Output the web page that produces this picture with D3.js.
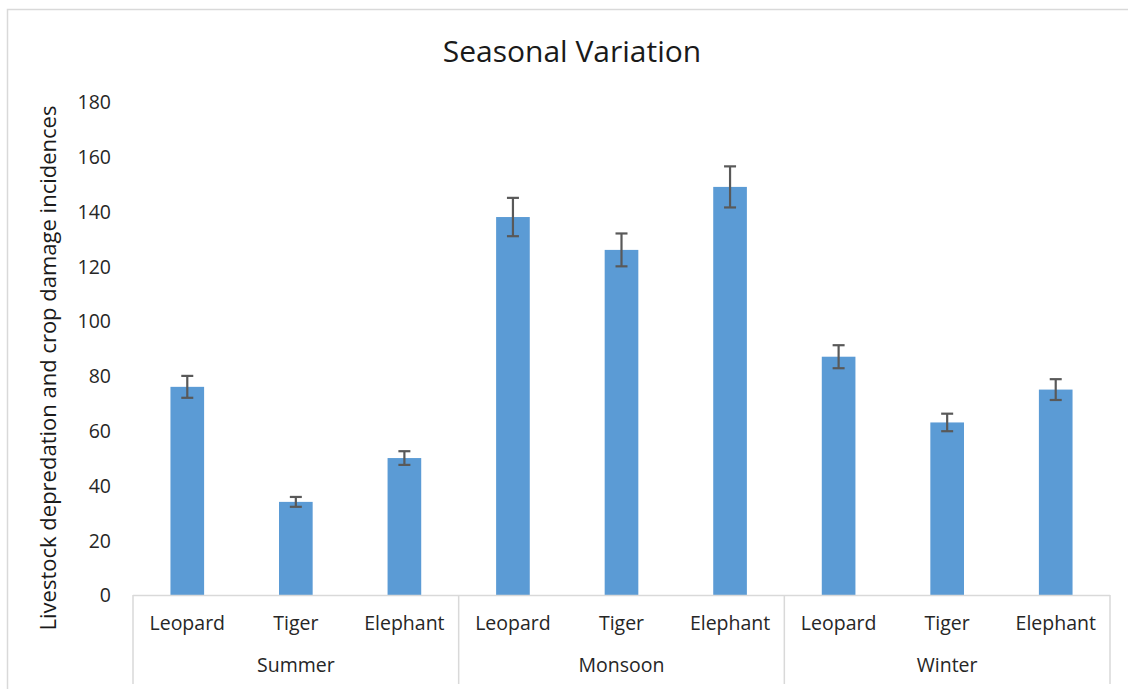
<!DOCTYPE html>
<html>
<head>
<meta charset="utf-8">
<script src="https://cdn.jsdelivr.net/npm/d3@7"></script>
<style>
  html, body { margin: 0; padding: 0; background: #fff; }
  svg { display: block; }
  text { font-family: "Open Sans", Lato, "Liberation Sans", sans-serif; }
</style>
</head>
<body>
<svg id="chart" width="1128" height="689"></svg>
<script>
const seasons = ["Summer", "Monsoon", "Winter"];
const animals = ["Leopard", "Tiger", "Elephant"];
const values = [76, 34, 50, 138, 126, 149, 87, 63, 75];
const errors = [4, 1.8, 2.5, 7, 6, 7.5, 4.2, 3.2, 3.8];
const yTicks = [0, 20, 40, 60, 80, 100, 120, 140, 160, 180];
const chartTitle = "Seasonal Variation";
const yTitle = "Livestock depredation and crop damage incidences";

(function () {
const svg = d3.select("#chart");
const mLeft = 133, mRight = 1110, mTop = 102, mBottom = 595;

// chart border
svg.append("rect").attr("x", 7.5).attr("y", 9.5).attr("width", 1130).attr("height", 700)
  .attr("fill", "none").attr("stroke", "#d9d9d9").attr("stroke-width", 1.5);

const keys = [];
seasons.forEach(s => animals.forEach(a => keys.push(s + "|" + a)));
const data = keys.map((k, i) => ({ key: k, season: k.split("|")[0], animal: k.split("|")[1], v: values[i], e: errors[i] }));

const x = d3.scaleBand().domain(keys).range([mLeft, mRight]).paddingInner(0).paddingOuter(0);
const xg = d3.scaleBand().domain(seasons).range([mLeft, mRight]);
const y = d3.scaleLinear().domain([0, 180]).range([mBottom, mTop]);

const barW = x.bandwidth() * 0.31;

// bars
svg.append("g").selectAll("rect").data(data).enter().append("rect")
  .attr("x", d => x(d.key) + x.bandwidth() / 2 - barW / 2)
  .attr("y", d => y(d.v))
  .attr("width", barW)
  .attr("height", d => y(0) - y(d.v))
  .attr("fill", "#5B9BD5");

// error bars
const eg = svg.append("g").attr("stroke", "#595959").attr("stroke-width", 2.2);
data.forEach(d => {
  const cx = x(d.key) + x.bandwidth() / 2;
  eg.append("line").attr("x1", cx).attr("x2", cx).attr("y1", y(d.v + d.e)).attr("y2", y(d.v - d.e));
  eg.append("line").attr("x1", cx - 6).attr("x2", cx + 6).attr("y1", y(d.v + d.e)).attr("y2", y(d.v + d.e));
  eg.append("line").attr("x1", cx - 6).attr("x2", cx + 6).attr("y1", y(d.v - d.e)).attr("y2", y(d.v - d.e));
});

// y axis (labels only)
const yAxis = d3.axisLeft(y).tickValues(yTicks).tickSize(0).tickPadding(0);
const ya = svg.append("g").attr("transform", `translate(${111},0)`).call(yAxis);
ya.select(".domain").remove();
ya.selectAll("text").attr("font-size", 19.5).attr("fill", "#262626")
  .attr("font-family", "'Open Sans', Lato, sans-serif").attr("dy", "0.35em");

// x axis baseline and group dividers
svg.append("line").attr("x1", mLeft).attr("x2", mRight).attr("y1", mBottom + 0.5).attr("y2", mBottom + 0.5)
  .attr("stroke", "#d9d9d9").attr("stroke-width", 1.5);
const divs = seasons.map(s => xg(s)).concat([mRight]);
svg.append("g").selectAll("line").data(divs).enter().append("line")
  .attr("x1", d => d).attr("x2", d => d).attr("y1", mBottom).attr("y2", 684)
  .attr("stroke", "#d9d9d9").attr("stroke-width", 1.5);

// category labels
const xAxis = d3.axisBottom(x).tickSize(0).tickPadding(0).tickFormat(k => k.split("|")[1]);
const xa = svg.append("g").attr("transform", `translate(0,${623})`).call(xAxis);
xa.select(".domain").remove();
xa.selectAll("text").attr("font-size", 19.5).attr("fill", "#262626")
  .attr("font-family", "'Open Sans', Lato, sans-serif").attr("dy", "0.35em");

// group labels
svg.append("g").selectAll("text").data(seasons).enter().append("text")
  .attr("x", d => xg(d) + xg.bandwidth() / 2).attr("y", 665).attr("dy", "0.35em")
  .attr("text-anchor", "middle").attr("font-size", 19.5).attr("fill", "#262626")
  .text(d => d);

// title
svg.append("text").attr("x", 572).attr("y", 51).attr("dy", "0.35em").attr("text-anchor", "middle")
  .attr("font-size", 30).attr("fill", "#1a1a1a").text(chartTitle);

// y title
svg.append("text").attr("transform", `translate(48,${368}) rotate(-90)`).attr("dy", "0.35em")
  .attr("text-anchor", "middle").attr("font-size", 22).attr("fill", "#1a1a1a").text(yTitle);
})();
</script>
</body>
</html>
